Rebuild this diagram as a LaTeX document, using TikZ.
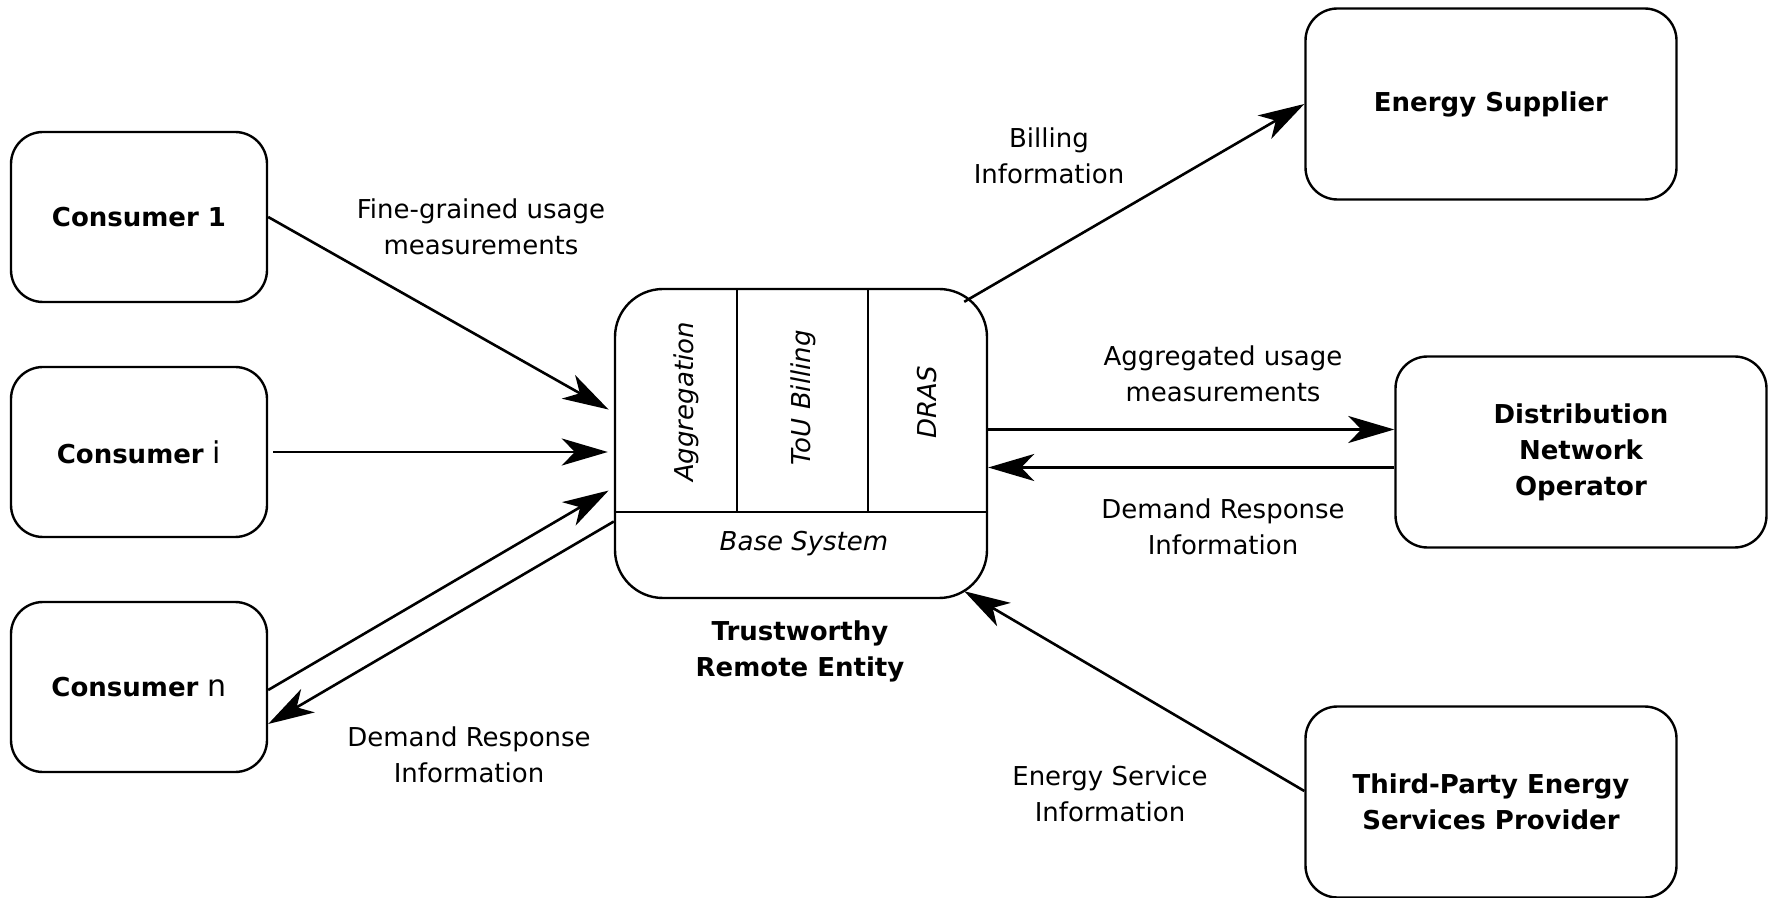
\documentclass[tikz,border=0pt]{standalone}
\usepackage{fontspec}
\setmainfont{DejaVu Sans}
\usetikzlibrary{arrows.meta,positioning}

\tikzset{
  every node/.style={font=\fontsize{13}{18}\selectfont},
  entity/.style={draw, line width=1.2pt, rounded corners=16pt, minimum width=128pt, minimum height=85pt, align=center, font=\fontsize{13}{18}\selectfont\bfseries},
  party/.style={entity, minimum width=185.5pt, minimum height=95.5pt},
  core/.style={draw, line width=1.2pt, rounded corners=24pt, minimum width=186pt, minimum height=154.5pt},
  module/.style={rotate=90, font=\fontsize{13}{18}\selectfont\itshape},
  flow/.style={line width=1.3pt, -{Stealth[length=23pt,width=13.5pt,inset=6.5pt]}},
  lbl/.style={align=center},
}

\begin{document}
\begin{tikzpicture}[x=0.5pt,y=-0.5pt]
        \useasboundingbox (0,0) rectangle (1773,898);
        % consumers
        \node[entity] (c1) at (139,217) {Consumer 1};
        \node[entity] (ci) at (139,452) {Consumer {\mdseries\fontsize{15}{18}\selectfont i}};
        \node[entity] (cn) at (139,687) {Consumer {\mdseries\fontsize{15}{18}\selectfont n}};
        % other parties
        \node[party] (es) at (1491,104) {Energy Supplier};
        \node[party] (dno) at (1581,452) {Distribution\\Network\\Operator};
        \node[party] (tpesp) at (1491,802) {Third-Party Energy\\Services Provider};
        % remote entity
        \node[core] (tre) at (801,443.5) {};
        \coordinate (split) at (801,512);
        \coordinate (cut1) at (737,512);
        \coordinate (cut2) at (868,512);
        \draw[line width=1.2pt] (tre.west |- split) -- (tre.east |- split);
        \draw[line width=1.2pt] (cut1) -- (cut1 |- tre.north);
        \draw[line width=1.2pt] (cut2) -- (cut2 |- tre.north);
        \node[module] (agg) at (686,402) {Aggregation};
        \node[module] (tou) at (803,398) {ToU Billing};
        \node[module] (dras) at (927,402) {DRAS};
        \node[font=\fontsize{13}{18}\selectfont\itshape] (base) at (804,544) {Base System};
        \node[lbl, font=\fontsize{13}{18}\selectfont\bfseries] (trename) at (800,651) {Trustworthy\\Remote Entity};
        % flows
        \draw[flow, shorten >=3pt] (c1.east) -- ([yshift=15.5pt]tre.west);
        \draw[flow, shorten <=2.5pt, shorten >=3pt] (ci.east) -- (ci.east -| tre.west);
        \draw[flow, shorten >=3pt] ([yshift=-1.5pt]cn.east) -- ([yshift=-22pt]tre.west);
        \draw[flow] ([yshift=-39pt]tre.west) -- ([yshift=-18.5pt]cn.east);
        \draw[flow] ([xshift=-12pt,yshift=-7pt]tre.north east) -- (es.west);
        \draw[flow] ([yshift=7pt]tre.east) -- ([yshift=7pt]tre.east -| dno.west);
        \draw[flow] ([yshift=-12pt]tre.east -| dno.west) -- ([yshift=-12pt]tre.east);
        \draw[flow] ([yshift=5.5pt]tpesp.west) -- ([xshift=-12pt,yshift=4pt]tre.south east);
        % flow labels
        \node[lbl] (fine) at (481,227) {Fine-grained usage\\measurements};
        \node[lbl] (drleft) at (469,755) {Demand Response\\Information};
        \node[lbl] (bill) at (1049,156) {Billing\\Information};
        \node[lbl] (aggr) at (1223,374) {Aggregated usage\\measurements};
        \node[lbl] (drright) at (1223,527) {Demand Response\\Information};
        \node[lbl] (serv) at (1110,794) {Energy Service\\Information};
\end{tikzpicture}
\end{document}
